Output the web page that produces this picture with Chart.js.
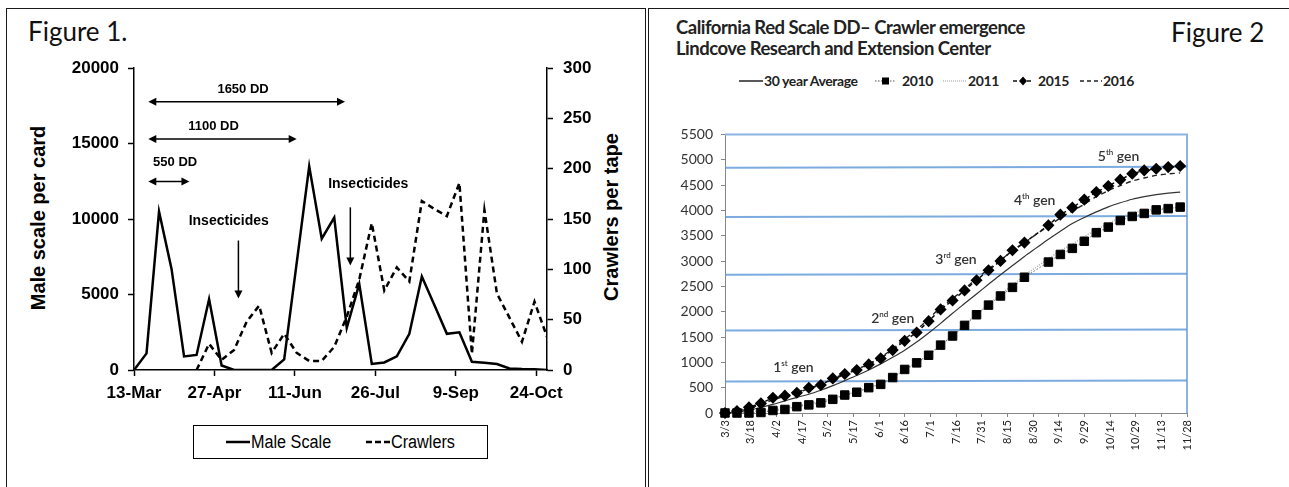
<!DOCTYPE html>
<html>
<head>
<meta charset="utf-8">
<title>Figure 1 and Figure 2</title>
<script src="https://cdn.jsdelivr.net/npm/chart.js@4.4.1/dist/chart.umd.min.js"></script>
<style>
  html, body { margin: 0; padding: 0; background: #fff; }
  body { position: relative; width: 1289px; height: 487px; overflow: hidden; font-family: Lato, 'Open Sans', sans-serif; color: #222; }
  .abs { position: absolute; white-space: nowrap; }
  .panel { position: absolute; top: 8px; height: 520px; border: 1.5px solid #1a1a1a; box-sizing: border-box; }
  #panel1 { left: 6px; width: 640px; }
  #panel2 { left: 648px; width: 670px; }
  .fig { font-size: 26px; line-height: 30px; color: #111; }
  .axtitle { font: bold 20px 'Liberation Sans', Arial, sans-serif; color: #000; width: 240px; text-align: center; line-height: 24px; transform: rotate(-90deg); }
  .leg1 { font: 18px 'Liberation Sans Narrow', 'Liberation Sans', Arial, sans-serif; line-height: 20px; color: #000; transform: scaleX(0.9); transform-origin: left center; }
  .leg2 { font: bold 14px Lato, sans-serif; letter-spacing: -0.4px; line-height: 18px; color: #222; }
  .ttl { font: bold 18.5px Lato, sans-serif; letter-spacing: -0.5px; line-height: 22px; color: #222; }
  canvas { position: absolute; }
</style>
</head>
<body>
<div class="panel" id="panel1"></div>
<div class="panel" id="panel2"></div>

<div class="abs fig" style="left:28px;top:16px">Figure 1.</div>
<div class="abs fig" style="left:1171px;top:17px">Figure 2</div>

<div class="abs axtitle" style="left:-82px;top:206px">Male scale per card</div>
<div class="abs axtitle" style="left:491px;top:205px">Crawlers per tape</div>

<canvas id="fig1" width="640" height="367" style="left:0;top:48px"></canvas>

<div class="abs" style="left:193px;top:425px;width:295px;height:34px;border:1.5px solid #000;box-sizing:border-box"></div>
<svg class="abs" style="left:226px;top:437px" width="24" height="10"><line x1="0" y1="5" x2="24" y2="5" stroke="#000" stroke-width="2.5"/></svg>
<div class="abs leg1" style="left:251px;top:432px">Male Scale</div>
<svg class="abs" style="left:366px;top:437px" width="24" height="10"><line x1="0" y1="5" x2="24" y2="5" stroke="#000" stroke-width="2.5" stroke-dasharray="6 3"/></svg>
<div class="abs leg1" style="left:391px;top:432px">Crawlers</div>

<div class="abs ttl" style="left:676px;top:16px">California Red Scale DD– Crawler emergence</div>
<div class="abs ttl" style="left:676px;top:37px">Lindcove Research and Extension Center</div>

<svg class="abs" style="left:739px;top:76px" width="24" height="10"><line x1="0" y1="5" x2="24" y2="5" stroke="#222" stroke-width="1.5"/></svg>
<div class="abs leg2" style="left:764px;top:72px">30 year Average</div>
<svg class="abs" style="left:875px;top:76px" width="21" height="10"><line x1="0" y1="5" x2="21" y2="5" stroke="#555" stroke-width="1" stroke-dasharray="1.5 1.5"/><rect x="7" y="1.5" width="7" height="7" fill="#000"/></svg>
<div class="abs leg2" style="left:902px;top:72px">2010</div>
<svg class="abs" style="left:943px;top:76px" width="24" height="10"><line x1="0" y1="5" x2="24" y2="5" stroke="#999" stroke-width="1" stroke-dasharray="1 1"/></svg>
<div class="abs leg2" style="left:968px;top:72px">2011</div>
<svg class="abs" style="left:1013px;top:76px" width="20" height="10"><line x1="0" y1="5" x2="20" y2="5" stroke="#111" stroke-width="1.5" stroke-dasharray="4 3"/><path d="M10 0.5 L14 5 L10 9.5 L6 5 Z" fill="#000"/></svg>
<div class="abs leg2" style="left:1038px;top:72px">2015</div>
<svg class="abs" style="left:1080px;top:76px" width="22" height="10"><line x1="0" y1="5" x2="22" y2="5" stroke="#222" stroke-width="1.5" stroke-dasharray="4 3"/></svg>
<div class="abs leg2" style="left:1103px;top:72px">2016</div>

<canvas id="fig2" width="639" height="347" style="left:650px;top:118px"></canvas>

<script>
// ---- Figure 1: weekly counts, days counted from 13-Mar ----
const fig1Days = [0, 7, 14, 21, 28, 35, 42, 49, 56, 63, 70, 77, 84, 91, 98, 105, 112,
  119, 126, 133, 140, 147, 154, 161, 168, 175, 182, 189, 196, 203, 210, 217, 224, 231];
const fig1TickDays = [0, 45, 90, 135, 180, 225];
const fig1TickLabels = ['13-Mar', '27-Apr', '11-Jun', '26-Jul', '9-Sep', '24-Oct'];
const maleScale = [0, 1100, 10500, 6700, 900, 1000, 4700, 300, 0, 0, 0, 0, 700, 7100, 13500, 8700, 10100,
  2800, 5700, 400, 500, 900, 2400, 6200, 4300, 2400, 2500, 550, 480, 400, 100, 60, 50, 0];
const crawlers = [null, null, null, null, null, 0, 26, 10, 20, 48, 64, 17, 36, 17, 9, 9, 23,
  53, 90, 146, 79, 102, 88, 168, 160, 153, 186, 16, 159, 76, 52, 28, 68, 33];

// notes on figure 1 (x in days, y in male scale units)
const ddLabels = ['550 DD', '1100 DD', '1650 DD'];
const ddFrom = [8, 8, 8];
const ddTo = [31, 91, 118];
const ddArrowY = [12500, 15300, 17780];
const ddTextX = [23, 44.5, 61];
const ddTextY = [13750, 16130, 18600];
const sprayTextX = [53, 131];
const sprayTextY = [9860, 12320];
const sprayArrowX = [58.4, 121];
const sprayArrowTop = [8580, 10780];
const sprayArrowTip = [4730, 6930];

// ---- Figure 2: cumulative degree days, days counted from 3/3 ----
const fig2Days = [0, 7, 14, 21, 28, 35, 42, 49, 56, 63, 70, 77, 84, 91, 98, 105, 112, 119, 126, 133,
  140, 147, 154, 161, 168, 175, 182, 189, 196, 203, 210, 217, 224, 231, 238, 245, 252, 259, 266];
const fig2TickLabels = ['3/3', '3/18', '4/2', '4/17', '5/2', '5/17', '6/1', '6/16', '7/1', '7/16',
  '7/31', '8/15', '8/30', '9/14', '9/29', '10/14', '10/29', '11/13', '11/28'];
const avg30 = [0, 20, 55, 110, 170, 240, 310, 370, 450, 540, 640, 740, 850, 970, 1100, 1240, 1400, 1580, 1770, 1970,
  2160, 2350, 2540, 2730, 2910, 3090, 3260, 3430, 3590, 3740, 3860, 3970, 4070, 4150, 4220, 4270, 4310, 4340, 4360];
const dd2010 = [0, 0, 0, 10, 50, 70, 125, 160, 200, 270, 355, 410, 500, 565, 700, 860, 990, 1140, 1340, 1520,
  1730, 1940, 2130, 2310, 2480, 2680, null, 2980, 3130, 3250, 3390, 3560, 3670, 3800, 3880, 3940, 4010, 4035, 4065];
const dd2011 = [0, 10, 25, 45, 70, 100, 140, 180, 230, 290, 360, 420, 500, 580, 700, 850, 990, 1150, 1340, 1530,
  1740, 1950, 2150, 2340, 2520, 2720, 2880, 3050, 3200, 3340, 3480, 3620, 3740, 3860, 3950, 4000, 4030, 4050, 4060];
const dd2015 = [0, 40, 112, 190, 302, 342, 400, 499, 552, 683, 769, 848, 959, 1078, 1242, 1425, 1590, 1813, 2045, 2220,
  2420, 2621, 2818, 3002, 3213, 3364, null, 3705, 3916, 4054, 4212, 4362, 4481, 4606, 4724, 4790, 4823, 4855, 4875];
const dd2016 = [0, 30, 90, 170, 260, 330, 400, 480, 560, 660, 760, 860, 970, 1100, 1270, 1460, 1640, 1860, 2080, 2260,
  2450, 2650, 2840, 3020, 3200, 3360, 3530, 3690, 3850, 3990, 4120, 4270, 4390, 4490, 4580, 4640, 4690, 4720, 4740];

// generation threshold lines (value at 3/3, value at 11/28)
const genLineStart = [620, 1630, 2730, 3870, 4840];
const genLineEnd = [640, 1650, 2750, 3890, 4860];
const genNumbers = ['1', '2', '3', '4', '5'];
const genSuffix = ['st', 'nd', 'rd', 'th', 'th'];
const genDays = [40, 98, 135, 181, 230];
const genValues = [910, 1870, 3050, 4200, 5070];

Chart.defaults.animation = false;
Chart.defaults.responsive = false;
Chart.defaults.devicePixelRatio = 1;
Chart.defaults.plugins.legend.display = false;
Chart.defaults.plugins.tooltip.enabled = false;

function arrowHead(ctx, x, y, angle) {
    ctx.save();
    ctx.translate(x, y);
    ctx.rotate(angle);
    ctx.beginPath();
    ctx.moveTo(0, 0);
    ctx.lineTo(-8, -4);
    ctx.lineTo(-8, 4);
    ctx.closePath();
    ctx.fill();
    ctx.restore();
}

const fig1Notes = {
    id: 'fig1Notes',
    afterDatasetsDraw(chart) {
        const { ctx, scales: { x, y } } = chart;
        ctx.save();
        ctx.fillStyle = '#000';
        ctx.strokeStyle = '#000';
        ctx.lineWidth = 1.5;
        ctx.font = 'bold 13px "Liberation Sans", Arial, sans-serif';
        ctx.textAlign = 'center';
        ctx.textBaseline = 'middle';
        ddLabels.forEach((label, i) => {
            const x0 = x.getPixelForValue(ddFrom[i]);
            const x1 = x.getPixelForValue(ddTo[i]);
            const yy = y.getPixelForValue(ddArrowY[i]);
            ctx.beginPath();
            ctx.moveTo(x0 + 4, yy);
            ctx.lineTo(x1 - 4, yy);
            ctx.stroke();
            arrowHead(ctx, x1, yy, 0);
            arrowHead(ctx, x0, yy, Math.PI);
            ctx.fillText(label, x.getPixelForValue(ddTextX[i]), y.getPixelForValue(ddTextY[i]));
        });
        ctx.font = 'bold 14px "Liberation Sans", Arial, sans-serif';
        sprayTextX.forEach((tx, i) => {
            ctx.fillText('Insecticides', x.getPixelForValue(tx), y.getPixelForValue(sprayTextY[i]));
            const ax = x.getPixelForValue(sprayArrowX[i]);
            const top = y.getPixelForValue(sprayArrowTop[i]);
            const tip = y.getPixelForValue(sprayArrowTip[i]);
            ctx.beginPath();
            ctx.moveTo(ax, top);
            ctx.lineTo(ax, tip - 4);
            ctx.stroke();
            arrowHead(ctx, ax, tip, Math.PI / 2);
        });
        ctx.restore();
    }
};

const axis1 = {
    grid: { drawOnChartArea: false, drawTicks: true, tickLength: 6, color: '#000', tickWidth: 1.5 },
    border: { display: true, color: '#000', width: 1.5 }
};
const boldTick = { size: 17, weight: 'bold', family: '"Liberation Sans", Arial, sans-serif' };
const plainNumber = v => String(v);

new Chart(document.getElementById('fig1'), {
    type: 'line',
    data: {
        datasets: [{
            label: 'Male Scale',
            data: maleScale.map((v, i) => ({ x: fig1Days[i], y: v })),
            borderColor: '#000',
            borderWidth: 2.5,
            pointRadius: 0,
            yAxisID: 'y'
        }, {
            label: 'Crawlers',
            data: crawlers.map((v, i) => ({ x: fig1Days[i], y: v })),
            borderColor: '#000',
            borderWidth: 2.5,
            borderDash: [6, 4],
            pointRadius: 0,
            yAxisID: 'y1'
        }]
    },
    options: {
        layout: { padding: { top: 12, left: 0, right: 0, bottom: 0 } },
        scales: {
            x: {
                type: 'linear', min: 0, max: 231,
                ...axis1,
                afterBuildTicks: s => { s.ticks = fig1TickDays.map(v => ({ value: v })); },
                afterFit: s => { s.height = 45; },
                ticks: {
                    autoSkip: false, maxRotation: 0, padding: 7, color: '#000', font: boldTick,
                    callback: v => fig1TickLabels[fig1TickDays.indexOf(v)]
                }
            },
            y: {
                position: 'left', min: 0, max: 20000,
                ...axis1,
                afterFit: s => { s.width = 134; },
                ticks: { stepSize: 5000, padding: 9, color: '#000', font: boldTick, callback: plainNumber }
            },
            y1: {
                position: 'right', min: 0, max: 300,
                ...axis1,
                afterFit: s => { s.width = 93; },
                ticks: { stepSize: 50, padding: 10, color: '#000', font: boldTick, callback: plainNumber }
            }
        }
    },
    plugins: [fig1Notes]
});

// ---- Figure 2 ----
const frame2 = {
    id: 'frame2',
    beforeDatasetsDraw(chart) {
        const a = chart.chartArea, c = chart.ctx;
        c.save();
        c.strokeStyle = '#8db3e2';
        c.lineWidth = 2;
        c.beginPath();
        c.moveTo(a.left, a.top);
        c.lineTo(a.right, a.top);
        c.lineTo(a.right, a.bottom);
        c.stroke();
        c.restore();
    }
};

const genNotes = {
    id: 'genNotes',
    afterDatasetsDraw(chart) {
        const { ctx, scales: { x, y } } = chart;
        const big = '600 14px Lato, sans-serif';
        const small = '600 8px Lato, sans-serif';
        ctx.save();
        ctx.fillStyle = '#333';
        ctx.textBaseline = 'alphabetic';
        ctx.textAlign = 'left';
        genNumbers.forEach((n, i) => {
            ctx.font = big;
            const w1 = ctx.measureText(n).width;
            const w3 = ctx.measureText(' gen').width;
            ctx.font = small;
            const w2 = ctx.measureText(genSuffix[i]).width;
            let px = x.getPixelForValue(genDays[i]) - (w1 + w2 + w3) / 2;
            const py = y.getPixelForValue(genValues[i]) + 5;
            ctx.font = big;
            ctx.fillText(n, px, py);
            px += w1;
            ctx.font = small;
            ctx.fillText(genSuffix[i], px, py - 6);
            px += w2;
            ctx.font = big;
            ctx.fillText(' gen', px, py);
        });
        ctx.restore();
    }
};

const pts2 = arr => arr.map((v, i) => ({ x: fig2Days[i], y: v }));
const genLineSets = genLineStart.map((v, i) => ({
    label: 'gen ' + genNumbers[i],
    data: [{ x: 0, y: v }, { x: 270, y: genLineEnd[i] }],
    borderColor: 'rgba(91, 150, 215, 0.8)',
    borderWidth: 2,
    pointRadius: 0
}));

const axis2 = {
    grid: { drawOnChartArea: false, drawTicks: true, tickLength: 4, color: '#868686' },
    border: { display: true, color: '#868686', width: 1 }
};

new Chart(document.getElementById('fig2'), {
    type: 'line',
    data: {
        datasets: [{
            label: '2015',
            data: pts2(dd2015),
            borderColor: '#111',
            borderWidth: 1.5,
            borderDash: [4, 3],
            pointStyle: 'rectRot',
            pointRadius: 5,
            pointBackgroundColor: '#000',
            pointBorderColor: '#000',
            spanGaps: true,
            clip: false
        }, {
            label: '2010',
            data: pts2(dd2010),
            borderColor: '#666',
            borderWidth: 1,
            borderDash: [1.5, 2],
            pointStyle: 'rect',
            pointRadius: 6,
            pointBackgroundColor: '#000',
            pointBorderColor: '#000',
            spanGaps: true,
            clip: false
        }, {
            label: '2016',
            data: pts2(dd2016),
            borderColor: '#222',
            borderWidth: 1.4,
            borderDash: [5, 4],
            pointRadius: 0,
            tension: 0.3
        }, {
            label: '30 year Average',
            data: pts2(avg30),
            borderColor: '#333',
            borderWidth: 1.2,
            pointRadius: 0,
            tension: 0.3
        }, {
            label: '2011',
            data: pts2(dd2011),
            borderColor: '#aaa',
            borderWidth: 1.5,
            borderDash: [1, 1.5],
            pointRadius: 0
        }, ...genLineSets]
    },
    options: {
        layout: { padding: { top: 14, left: 0, right: 102, bottom: 0 } },
        scales: {
            x: {
                type: 'linear', min: 0, max: 270,
                ...axis2,
                afterBuildTicks: s => { s.ticks = fig2TickLabels.map((_, i) => ({ value: i * 15 })); },
                afterFit: s => { s.height = 52; },
                ticks: {
                    autoSkip: false, minRotation: 90, maxRotation: 90, padding: 3, color: '#222',
                    font: { size: 11, family: 'Lato, sans-serif' },
                    callback: v => fig2TickLabels[Math.round(v / 15)]
                }
            },
            y: {
                min: 0, max: 5500,
                ...axis2,
                afterFit: s => { s.width = 75; },
                ticks: { stepSize: 500, padding: 8, color: '#333', font: { size: 14, family: 'Lato, sans-serif' }, callback: plainNumber }
            }
        }
    },
    plugins: [frame2, genNotes]
});
</script>
</body>
</html>
